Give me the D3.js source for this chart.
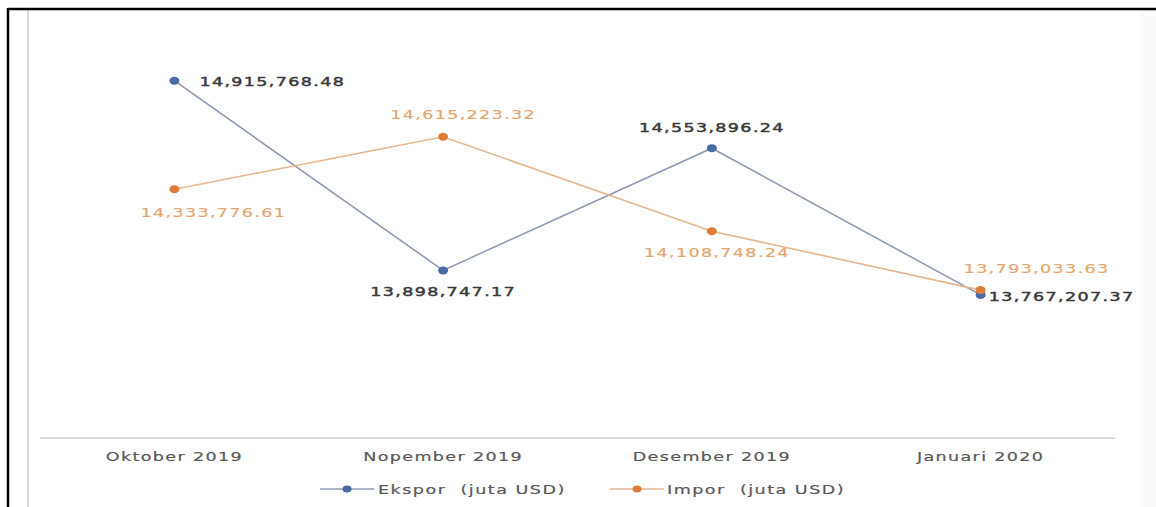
<!DOCTYPE html>
<html>
<head>
<meta charset="utf-8">
<script src="https://cdn.jsdelivr.net/npm/d3@7/dist/d3.min.js"></script>
<style>
  html, body { margin: 0; padding: 0; background: #ffffff; }
  svg { display: block; }
  text { font-family: "DejaVu Sans", Verdana, sans-serif; white-space: pre; }
</style>
</head>
<body>
<svg id="chart" width="1156" height="507"></svg>
<script>
// Monthly trade values (juta USD)
const categories = ["Oktober 2019", "Nopember 2019", "Desember 2019", "Januari 2020"];
const ekspor = [14915768.48, 13898747.17, 14553896.24, 13767207.37];
const impor  = [14333776.61, 14615223.32, 14108748.24, 13793033.63];
const seriesNames = ["Ekspor  (juta USD)", "Impor  (juta USD)"];

const W = 1156, H = 507;
const svg = d3.select("#chart");

// frame
svg.append("rect").attr("x", 0).attr("y", 0).attr("width", W).attr("height", H).attr("fill", "#fff");
svg.append("rect").attr("x", 1140).attr("y", 10).attr("width", 16).attr("height", H).attr("fill", "#fafafa");
svg.append("line").attr("x1", 28).attr("x2", 28).attr("y1", 10).attr("y2", H)
  .attr("stroke", "#dcdcdc").attr("stroke-width", 2);
svg.append("line").attr("x1", 8).attr("x2", W).attr("y1", 9).attr("y2", 9)
  .attr("stroke", "#000").attr("stroke-width", 2.5);
svg.append("line").attr("x1", 8).attr("x2", 8).attr("y1", 8).attr("y2", H)
  .attr("stroke", "#000").attr("stroke-width", 2.5);

const x = d3.scalePoint().domain(categories).range([40, 1115]).padding(0.5);
const y = d3.scaleLinear().domain([13000000, 15000000]).range([438, 65]);

const fmt = d3.format(",.2f");
const SX = 1.35;

function stretchedText(g, tx, ty, str, opts) {
  return g.append("text")
    .attr("transform", `translate(${tx},${ty}) scale(${SX},1)`)
    .attr("text-anchor", opts.anchor || "start")
    .attr("font-size", opts.size || 13)
    .attr("letter-spacing", opts.ls == null ? 1 : opts.ls)
    .attr("fill", opts.fill)
    .attr("stroke", opts.heavy ? opts.fill : "none")
    .attr("stroke-width", opts.heavy || 0)
    .text(str);
}

// category axis line
svg.append("line")
  .attr("x1", 40).attr("x2", 1115)
  .attr("y1", y(13000000)).attr("y2", y(13000000))
  .attr("stroke", "#d9d9d9").attr("stroke-width", 2);

const axisG = svg.append("g");
categories.forEach(c => {
  stretchedText(axisG, x(c), 461, c, { anchor: "middle", fill: "#595959", size: 13, heavy: 0.2 });
});

const series = [
  { name: seriesNames[0], values: ekspor, line: "#8e9bb3", dot: "#4a6aa3", label: "#3a3a3a", heavy: 0.45,
    // label placement: [dx, dy, anchor]
    place: [[25, 5, "start"], [0, 26, "middle"], [0, -16, "middle"], [8, 6, "start"]] },
  { name: seriesNames[1], values: impor, line: "#e3b78f", dot: "#e07b3a", label: "#e2a870", heavy: 0.2,
    place: [[39, 28, "middle"], [20, -18, "middle"], [5, 26, "middle"], [56, -17, "middle"]] }
];

const line = d3.line().x((d, i) => x(categories[i])).y(d => y(d));

series.forEach(s => {
  svg.append("path").datum(s.values)
    .attr("d", line).attr("fill", "none")
    .attr("stroke", s.line).attr("stroke-width", 1.6);
});
series.forEach(s => {
  svg.selectAll(null).data(s.values).enter().append("ellipse")
    .attr("cx", (d, i) => x(categories[i])).attr("cy", d => y(d))
    .attr("rx", 5).attr("ry", 4).attr("fill", s.dot);
});
series.forEach(s => {
  const g = svg.append("g");
  s.values.forEach((v, i) => {
    const p = s.place[i];
    stretchedText(g, x(categories[i]) + p[0], y(v) + p[1], fmt(v),
      { anchor: p[2], fill: s.label, size: 13, heavy: s.heavy });
  });
});

// legend
const legend = svg.append("g");
const legendItems = [
  { s: series[0], x0: 320, x1: 374, tx: 378 },
  { s: series[1], x0: 610, x1: 664, tx: 667 }
];
legendItems.forEach(it => {
  legend.append("line").attr("x1", it.x0).attr("x2", it.x1).attr("y1", 489).attr("y2", 489)
    .attr("stroke", it.s.line).attr("stroke-width", 1.6);
  legend.append("ellipse").attr("cx", (it.x0 + it.x1) / 2).attr("cy", 489)
    .attr("rx", 4.5).attr("ry", 3.5).attr("fill", it.s.dot);
  stretchedText(legend, it.tx, 494, it.s.name, { fill: "#595959", size: 13, ls: 1.1, heavy: 0.2 });
});
</script>
</body>
</html>
